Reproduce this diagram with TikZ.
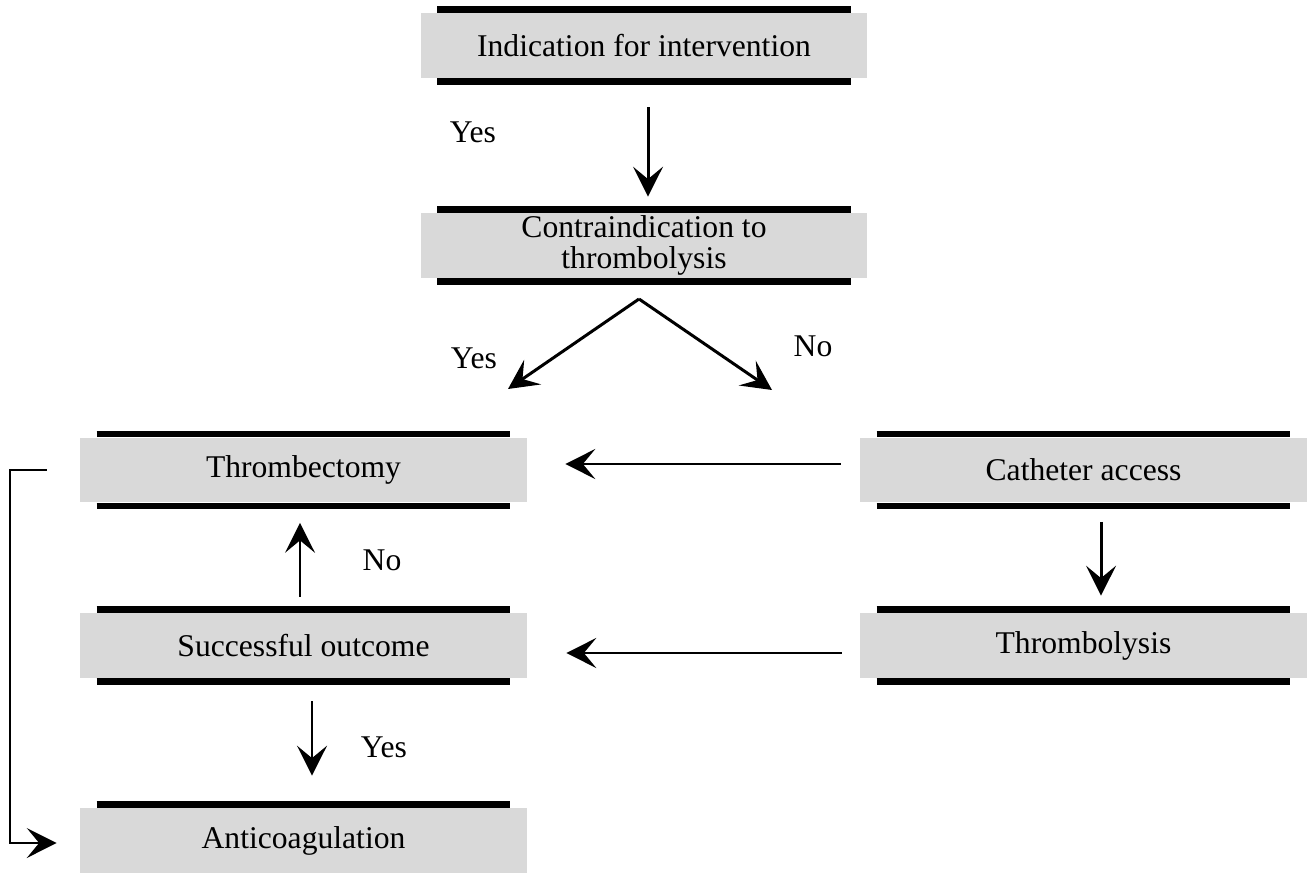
\documentclass[tikz,border=0pt]{standalone}
\usepackage{fontspec}
\setmainfont{Liberation Serif}
\usetikzlibrary{arrows.meta}

\definecolor{boxgray}{RGB}{217,217,217}

\tikzset{
    stage/.style={fill=boxgray, minimum width=8.94cm, minimum height=1.3cm, inner sep=0pt, align=center, font=\fontsize{18}{18}\selectfont},
    bar/.style={line width=3.7pt},
    flow/.style={line width=1.7pt, -{Stealth[length=17pt, width=17pt, inset=7pt]}},
    elbow/.style={line width=1.1pt, -{Stealth[length=17pt, width=17pt, inset=7pt]}},
    answer/.style={font=\fontsize{18}{18}\selectfont}
}

\begin{document}
\begin{tikzpicture}[x=0.02cm, y=-0.02cm]
    \useasboundingbox (0,0) rectangle (1307,874);

    % Boxes
    \node[stage] (indic)  at (644,45.5)    {Indication for intervention};
    \node[stage] (contra) at (644,245.5)   {Contraindication to\\thrombolysis};
    \node[stage] (thromb) at (303.5,470)   {Thrombectomy};
    \node[stage] (cath)   at (1083.5,470)  {Catheter access};
    \node[stage] (succ)   at (303.5,645.5) {Successful outcome};
    \node[stage] (lysis)  at (1083.5,645.5) {Thrombolysis};
    \node[stage] (anti)   at (303.5,840.5) {Anticoagulation};

    % Bars above and below
    \foreach \blk in {indic, contra, thromb, cath, succ, lysis, anti}
        \draw[bar] ([xshift=0.34cm, yshift=0.065cm]\blk.north west) -- ([xshift=-0.34cm, yshift=0.065cm]\blk.north east);
    \foreach \blk in {indic, contra, thromb, cath, succ, lysis}
        \draw[bar] ([xshift=0.34cm, yshift=-0.065cm]\blk.south west) -- ([xshift=-0.34cm, yshift=-0.065cm]\blk.south east);

    % Fork
    \coordinate (fork)   at (639,299);
    \coordinate (yesend) at (508,389);
    \coordinate (noend)  at (772,390);

    % Draw
    \draw[flow, shorten <=0.58cm, shorten >=0.32cm] ([xshift=0.08cm]indic.south) -- ([xshift=0.08cm]contra.north);
    \draw[flow] (fork) -- (yesend);
    \draw[flow] (fork) -- (noend);
    \draw[flow, shorten <=0.38cm, shorten >=0.76cm] ([yshift=0.12cm]cath.west) -- ([yshift=0.12cm]thromb.east);
    \draw[flow, shorten <=0.38cm, shorten >=0.34cm] ([xshift=0.35cm]cath.south) -- ([xshift=0.35cm]lysis.north);
    \draw[flow, shorten <=0.36cm, shorten >=0.78cm] ([yshift=-0.15cm]lysis.west) -- ([yshift=-0.15cm]succ.east);
    \draw[flow, shorten <=0.32cm, shorten >=0.4cm] ([xshift=-0.07cm]succ.north) -- ([xshift=-0.07cm]thromb.south);
    \draw[flow, shorten <=0.46cm, shorten >=0.64cm] ([xshift=0.17cm]succ.south) -- ([xshift=0.17cm]anti.north);
    \draw[elbow] ([xshift=-0.66cm]thromb.west) -- ++(-0.74cm,0) |- ([xshift=-0.46cm, yshift=-0.05cm]anti.west);

    % Labeling
    \node[answer] (yesA) at (473,132) {Yes};
    \node[answer] (yesB) at (474,358) {Yes};
    \node[answer] (noA)  at (813,346) {No};
    \node[answer] (noB)  at (382,560) {No};
    \node[answer] (yesC) at (384,747) {Yes};
\end{tikzpicture}
\end{document}
